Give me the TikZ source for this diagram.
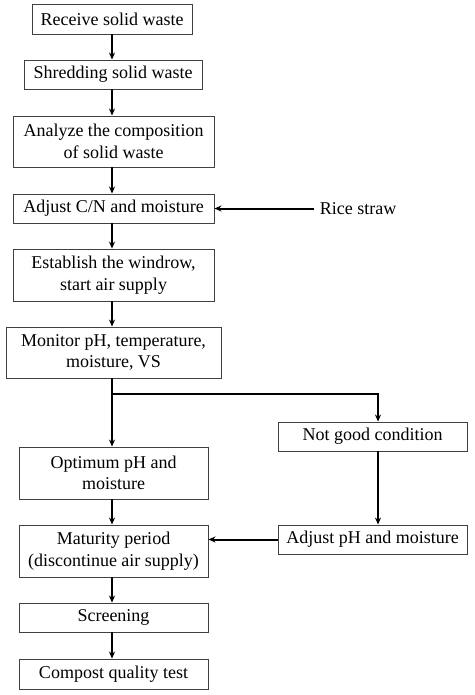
\documentclass[tikz,border=0pt]{standalone}
\usepackage{fontspec}
\setmainfont{Liberation Serif}
\usetikzlibrary{arrows.meta}

\begin{document}
\begin{tikzpicture}[
x=1pt, y=-1pt,
stepbox/.style={rectangle, draw=black!75, line width=0.9pt, align=center, inner sep=0pt,
  font=\fontsize{18}{21.5}\selectfont},
flow/.style={line width=2pt, -{Stealth[length=7pt, width=6pt]}},
]
\useasboundingbox (0,0) rectangle (474,695);
\node (recv) [stepbox, minimum width=160pt, minimum height=30pt] at (112,19) {Receive solid waste};
\node (shred) [stepbox, minimum width=178pt, minimum height=29pt] at (113,74.5) {Shredding solid waste};
\node (analyze) [stepbox, minimum width=201pt, minimum height=51pt] at (113.5,141.5) {Analyze the composition\\of solid waste};
\node (adjust) [stepbox, minimum width=201pt, minimum height=29pt] at (113.5,208.5) {Adjust C/N and moisture};
\node (rice) [inner sep=6pt, font=\fontsize{18}{21.5}\selectfont] at (358,208.5) {Rice straw};
\node (establish) [stepbox, minimum width=201pt, minimum height=52pt] at (113.5,275) {Establish the windrow,\\start air supply};
\node (monitor) [stepbox, minimum width=215pt, minimum height=51pt] at (113.5,352.5) {Monitor pH, temperature,\\moisture, VS};
\node (optimum) [stepbox, minimum width=189pt, minimum height=52pt] at (113.5,473) {Optimum pH and\\moisture};
\node (notgood) [stepbox, minimum width=189pt, minimum height=29pt] at (372.5,436.5) {Not good condition};
\node (maturity) [stepbox, minimum width=189pt, minimum height=52pt] at (113.5,551) {Maturity period\\(discontinue air supply)};
\node (adjph) [stepbox, minimum width=189pt, minimum height=29pt] at (372.5,539.5) {Adjust pH and moisture};
\node (screen) [stepbox, minimum width=189pt, minimum height=29pt] at (113.5,617.5) {Screening};
\node (compost) [stepbox, minimum width=189pt, minimum height=30pt] at (113.5,674) {Compost quality test};
\coordinate (split) at (112,394);
\coordinate (splitr) at (378,394);

\draw[flow] (recv.south -| split) -- (shred.north -| split);
\draw[flow] (shred.south -| split) -- (analyze.north -| split);
\draw[flow] (analyze.south -| split) -- (adjust.north -| split);
\draw[flow] (rice.west) -- (rice.west -| adjust.east);
\draw[flow] (adjust.south -| split) -- (establish.north -| split);
\draw[flow] (establish.south -| split) -- (monitor.north -| split);
\draw[flow] (monitor.south -| split) -- (optimum.north -| split);
\draw[flow] (split) -- (splitr) -- (notgood.north -| splitr);
\draw[flow] (notgood.south -| splitr) -- (adjph.north -| splitr);
\draw[flow] (adjph.west) -- (adjph.west -| maturity.east);
\draw[flow] (optimum.south -| split) -- (maturity.north -| split);
\draw[flow] (maturity.south -| split) -- (screen.north -| split);
\draw[flow] (screen.south -| split) -- (compost.north -| split);
\end{tikzpicture}
\end{document}
